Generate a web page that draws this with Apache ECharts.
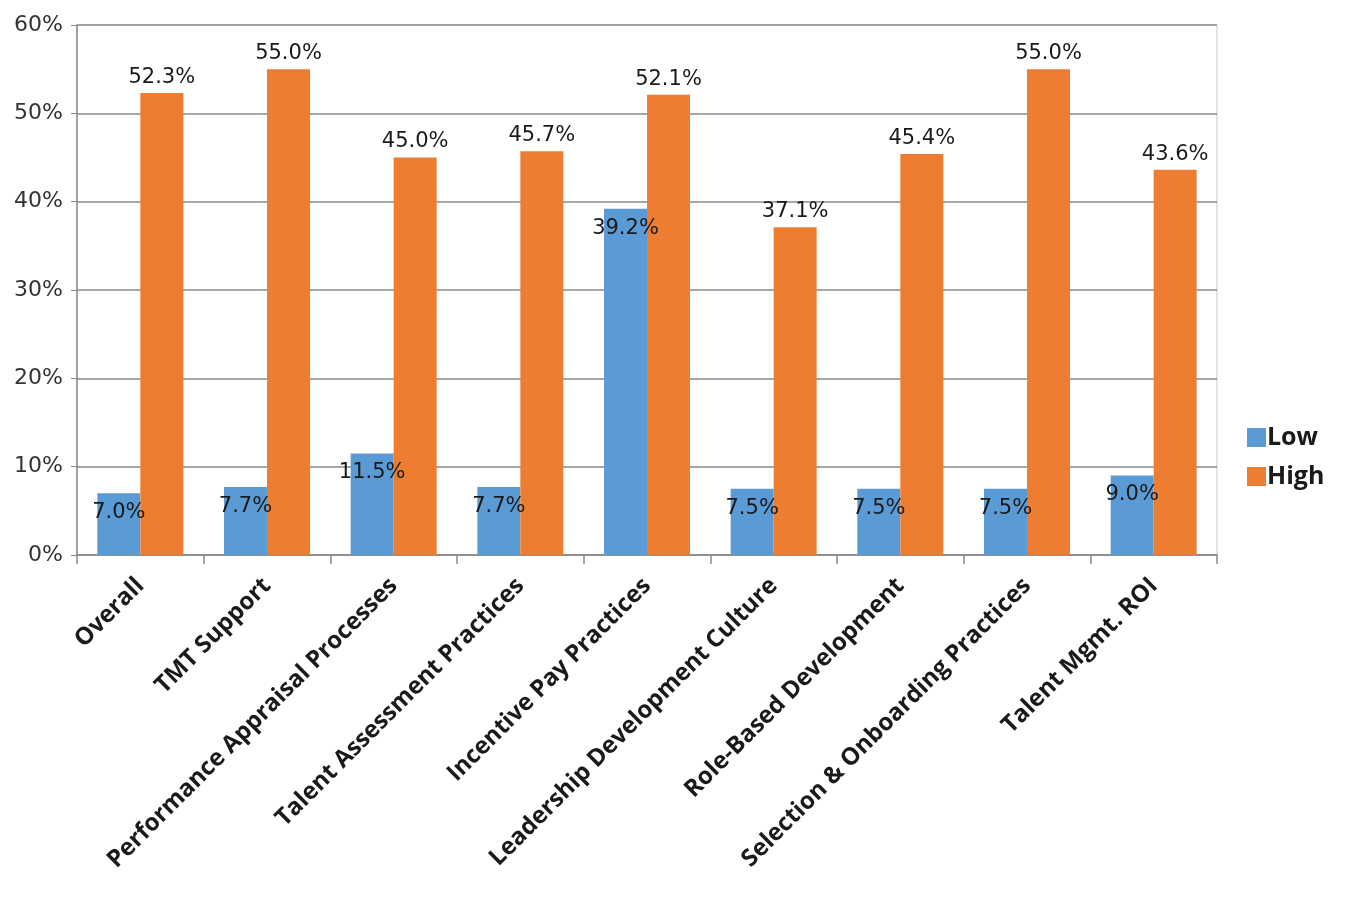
<!DOCTYPE html>
<html>
	<head>
		<meta charset="utf-8" />
		<title></title>
		<script src="https://cdn.jsdelivr.net/npm/echarts@6/dist/echarts.min.js" type="text/javascript"></script>
		<style>
			html, body { margin: 0; padding: 0; background: #fff; }
		</style>
	</head>
	<body>
		<div id="main" style="width: 1346px; height: 898px;"></div>
		<script>
			var categories = ['Overall', 'TMT Support', 'Performance Appraisal Processes', 'Talent Assessment Practices',
				'Incentive Pay Practices', 'Leadership Development Culture', 'Role-Based Development',
				'Selection & Onboarding Practices', 'Talent Mgmt. ROI'];
			var lowValues = [7.0, 7.7, 11.5, 7.7, 39.2, 7.5, 7.5, 7.5, 9.0];
			var highValues = [52.3, 55.0, 45.0, 45.7, 52.1, 37.1, 45.4, 55.0, 43.6];
			var yTicks = [0, 10, 20, 30, 40, 50, 60];

			var chart = echarts.init(document.getElementById('main'));
			var labelFont = {
				fontFamily: 'DejaVu Sans',
				fontSize: 21,
				color: '#1a1a1a',
				formatter: function(p) {
					return p.value.toFixed(1) + '%';
				}
			};
			var option = {
				animation: false,
				grid: {
					left: 77,
					right: 129,
					top: 25,
					bottom: 343,
					show: true,
					borderColor: '#c8c8c8',
					borderWidth: 1
				},
				legend: {
					orient: 'vertical',
					left: 1242,
					top: 420,
					icon: 'rect',
					itemWidth: 19,
					itemHeight: 19,
					itemGap: 14,
					textStyle: {
						fontFamily: 'Open Sans',
						fontWeight: 'bold',
						fontSize: 25,
						color: '#1a1a1a',
						padding: [0, 0, 0, -4]
					},
					data: ['Low', 'High']
				},
				xAxis: {
					type: 'category',
					data: categories,
					axisLine: { lineStyle: { color: '#8a8a8a', width: 1.5 } },
					axisTick: { show: true, length: 9, lineStyle: { color: '#8a8a8a', width: 1.5 } },
					axisLabel: {
						rotate: 45,
						interval: 0,
						margin: 27,
						fontFamily: 'Open Sans',
						fontWeight: 'bold',
						fontSize: 24,
						color: '#1a1a1a'
					}
				},
				yAxis: {
					type: 'value',
					min: yTicks[0],
					max: yTicks[yTicks.length - 1],
					interval: 10,
					axisLine: { show: true, lineStyle: { color: '#8a8a8a', width: 1.5 } },
					axisTick: { show: true, length: 6, lineStyle: { color: '#8a8a8a' } },
					splitLine: { lineStyle: { color: '#8a8a8a', width: 1.5 } },
					axisLabel: {
						margin: 14,
						fontFamily: 'DejaVu Sans',
						fontSize: 22,
						color: '#333',
						formatter: '{value}%'
					}
				},
				series: [{
						name: 'Low',
						type: 'bar',
						data: lowValues,
						barWidth: 43,
						barGap: '0%',
						itemStyle: { color: '#5b9bd5' },
						label: Object.assign({ show: true, position: 'insideTop', distance: 9 }, labelFont)
					},
					{
						name: 'High',
						type: 'bar',
						data: highValues,
						barWidth: 43,
						barGap: '0%',
						itemStyle: { color: '#ed7d31' },
						label: Object.assign({ show: true, position: 'top', distance: 5 }, labelFont)
					}
				]
			};
			chart.setOption(option);
		</script>
	</body>
</html>
